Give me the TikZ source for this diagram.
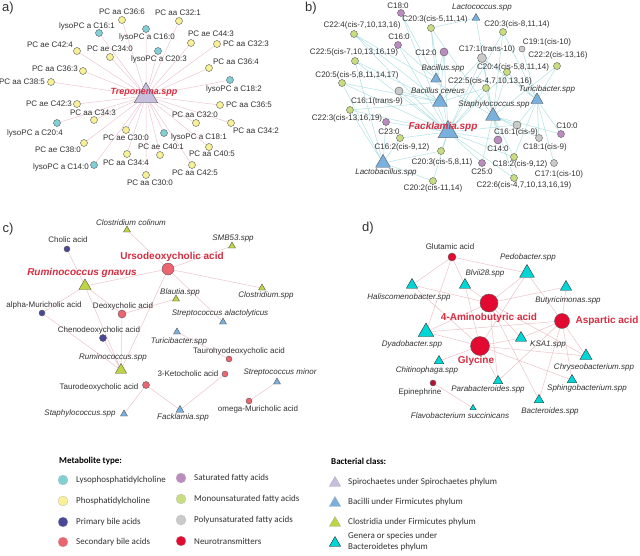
\documentclass[tikz,border=0pt]{standalone}
\usepackage{fontspec}
\setmainfont{Liberation Sans}
\newfontfamily\legfont{Carlito}
\usetikzlibrary{shapes.geometric,backgrounds}
\definecolor{lysoc}{RGB}{128,208,214}
\definecolor{pcc}{RGB}{247,240,150}
\definecolor{primc}{RGB}{72,72,150}
\definecolor{secc}{RGB}{236,100,112}
\definecolor{satc}{RGB}{186,140,192}
\definecolor{monoc}{RGB}{200,220,130}
\definecolor{polyc}{RGB}{202,202,202}
\definecolor{neuroc}{RGB}{226,10,48}
\definecolor{epic}{RGB}{180,20,50}
\definecolor{spiroc}{RGB}{200,190,222}
\definecolor{bacilc}{RGB}{122,176,222}
\definecolor{closc}{RGB}{190,212,64}
\definecolor{bactc}{RGB}{0,214,214}
\definecolor{hubred}{RGB}{215,45,65}
\definecolor{txtc}{RGB}{50,50,50}
\definecolor{apink}{RGB}{238,200,210}
\definecolor{bteal}{RGB}{180,226,230}
\definecolor{cpink}{RGB}{236,196,202}
\tikzset{
  mdot/.style={circle,draw=black!65,line width=0.4pt,inner sep=0pt,minimum size=#1},
  mdot/.default=7pt,
  tri/.style={regular polygon,regular polygon sides=3,draw=black!65,line width=0.4pt,inner sep=0pt,minimum size=#1},
  tri/.default=9pt,
  lbl/.style={font=\fontsize{8}{9.6}\selectfont,text=txtc,inner sep=0pt},
  blbl/.style={font=\fontsize{8}{9.6}\selectfont\itshape,text=txtc,inner sep=0pt},
  hub/.style={font=\fontsize{10}{12}\selectfont\bfseries,text=hubred,inner sep=0pt},
  ihub/.style={font=\fontsize{10}{12}\selectfont\bfseries\itshape,text=hubred,inner sep=0pt},
  panel/.style={font=\fontsize{13}{15}\selectfont,text=txtc,inner sep=0pt},
  aedge/.style={draw=apink,line width=0.5pt},
  bedge/.style={draw=bteal,line width=0.5pt},
  cedge/.style={draw=cpink,line width=0.5pt},
  legh/.style={font=\legfont\fontsize{9}{11}\selectfont\bfseries,text=black,inner sep=0pt,anchor=west},
  legt/.style={font=\legfont\fontsize{9}{11}\selectfont,text=txtc,inner sep=0pt,anchor=west,align=left},
  legdot/.style={circle,draw=black!25,line width=0.3pt,inner sep=0pt,minimum size=10pt},
  legtri/.style={regular polygon,regular polygon sides=3,draw=black!35,line width=0.3pt,inner sep=0pt,minimum size=13pt}
}
\begin{document}
\begin{tikzpicture}[x=1pt,y=-1pt]
  \useasboundingbox (0,0) rectangle (640,555);
  % panel letters
  \node[panel] (pa) at (8,8) {a)};
  \node[panel] (pb) at (311,8) {b)};
  \node[panel] (pc) at (8,229) {c)};
  \node[panel] (pd) at (368,228) {d)};

  % a) Treponema
  \node[tri=27pt,fill=spiroc] (trep) at (146,96) {};
  \node[mdot,fill=pcc] (aa366) at (122,20) {};   \node[lbl] (aa366t) at (122,12) {PC aa C36:6};
  \node[mdot,fill=pcc] (aa321) at (179,21) {};   \node[lbl] (aa321t) at (178,13) {PC aa C32:1};
  \node[mdot,fill=lysoc] (ly161) at (99,33) {};  \node[lbl] (ly161t) at (87,26) {lysoPC a C16:1};
  \node[mdot,fill=lysoc] (ly160) at (146,29) {}; \node[lbl] (ly160t) at (147,37) {lysoPC a C16:0};
  \node[mdot,fill=pcc] (ae443) at (191,43) {};   \node[lbl] (ae443t) at (211,34) {PC ae C44:3};
  \node[mdot,fill=pcc] (ae424) at (77,51) {};    \node[lbl] (ae424t) at (50,45) {PC ae C42:4};
  \node[mdot,fill=pcc] (ae340) at (110,57) {};   \node[lbl] (ae340t) at (110,49) {PC ae C34:0};
  \node[mdot,fill=pcc] (aa323) at (217,44) {};   \node[lbl] (aa323t) at (246,44) {PC aa C32:3};
  \node[mdot,fill=lysoc] (ly203) at (158,51) {}; \node[lbl] (ly203t) at (159,59) {lysoPC a C20:3};
  \node[mdot,fill=pcc] (aa364) at (209,68) {};   \node[lbl] (aa364t) at (236,62) {PC aa C36:4};
  \node[mdot,fill=pcc] (aa363) at (83,71) {};    \node[lbl] (aa363t) at (55,69) {PC aa C36:3};
  \node[mdot,fill=lysoc] (ly182) at (230,80) {}; \node[lbl] (ly182t) at (234,89) {lysoPC a C18:2};
  \node[mdot,fill=pcc] (aa385) at (51,82) {};    \node[lbl] (aa385t) at (22,82) {PC aa C38:5};
  \node[mdot,fill=pcc] (ae423) at (77,104) {};   \node[lbl] (ae423t) at (49,104) {PC ae C42:3};
  \node[mdot,fill=pcc] (aa365) at (220,105) {};  \node[lbl] (aa365t) at (249,105) {PC aa C36:5};
  \node[mdot,fill=pcc] (aa343) at (94,120) {};   \node[lbl] (aa343t) at (93,113) {PC aa C34:3};
  \node[mdot,fill=pcc] (aa320) at (196,123) {};  \node[lbl] (aa320t) at (195,115) {PC aa C32:0};
  \node[mdot,fill=pcc] (aa342) at (231,123) {};  \node[lbl] (aa342t) at (256,131) {PC aa C34:2};
  \node[mdot,fill=lysoc] (ly204) at (57,123) {}; \node[lbl] (ly204t) at (35,133) {lysoPC a C20:4};
  \node[mdot,fill=pcc] (ae300) at (126,130) {};  \node[lbl] (ae300t) at (126,138) {PC ae C30:0};
  \node[mdot,fill=lysoc] (ly181) at (164,133) {};\node[lbl] (ly181t) at (199,137) {lysoPC a C18:1};
  \node[mdot,fill=pcc] (ae380) at (84,143) {};   \node[lbl] (ae380t) at (58,150) {PC ae C38:0};
  \node[mdot,fill=pcc] (ae401) at (160,155) {};  \node[lbl] (ae401t) at (161,147) {PC ae C40:1};
  \node[mdot,fill=pcc] (aa405) at (209,147) {};  \node[lbl] (aa405t) at (212,154) {PC aa C40:5};
  \node[mdot,fill=lysoc] (ly140) at (94,165) {}; \node[lbl] (ly140t) at (61,167) {lysoPC a C14:0};
  \node[mdot,fill=pcc] (aa344) at (127,154) {};  \node[lbl] (aa344t) at (126,163) {PC aa C34:4};
  \node[mdot,fill=pcc] (aa425) at (192,165) {};  \node[lbl] (aa425t) at (195,173) {PC aa C42:5};
  \node[mdot,fill=pcc] (aa300) at (146,175) {};  \node[lbl] (aa300t) at (150,183) {PC aa C30:0};
  \node[font=\fontsize{9}{11}\selectfont\bfseries\itshape,text=hubred,inner sep=0pt] (trept) at (144,92) {Treponema.spp};

  % b) Facklamia and friends
  \node[tri=9pt,fill=bacilc] (lcoc) at (476,18) {};   \node[blbl] (lcoct) at (482,8) {Lactococcus.spp};
  \node[tri=12pt,fill=bacilc] (bspp) at (436,79) {};  \node[blbl] (bsppt) at (443,68) {Bacillus.spp};
  \node[tri=17pt,fill=bacilc] (bcer) at (440,102) {}; \node[blbl] (bcert) at (438,91) {Bacillus cereus};
  \node[tri=17pt,fill=bacilc] (staph) at (493,116) {};\node[blbl] (stapht) at (494,104) {Staphylococcus.spp};
  \node[tri=14pt,fill=bacilc] (turi) at (537,100) {}; \node[blbl] (turit) at (547,89) {Turicibacter.spp};
  \node[tri=17pt,fill=bacilc] (lbac) at (383,163) {}; \node[blbl] (lbact) at (386,172) {Lactobacillus.spp};
  \node[tri=23pt,fill=bacilc] (fack) at (448,132) {};
  \node[mdot,fill=satc] (b180) at (401,13) {};    \node[lbl] (b180t) at (398,6) {C18:0};
  \node[mdot,fill=monoc] (b203a) at (431,28) {};  \node[lbl] (b203at) at (435,19) {C20:3(cis-5,11,14)};
  \node[mdot,fill=monoc] (b203b) at (503,32) {};  \node[lbl] (b203bt) at (517,24) {C20:3(cis-8,11,14)};
  \node[mdot,fill=monoc] (b224) at (354,34) {};   \node[lbl] (b224t) at (362,25) {C22:4(cis-7,10,13,16)};
  \node[mdot,fill=satc] (b160) at (398,45) {};    \node[lbl] (b160t) at (399,37) {C16:0};
  \node[mdot,fill=monoc] (b225a) at (355,61) {};  \node[lbl] (b225at) at (354,52) {C22:5(cis-7,10,13,16,19)};
  \node[mdot=8pt,fill=satc] (b120) at (444,52) {};\node[lbl] (b120t) at (426,53) {C12:0};
  \node[mdot=9pt,fill=polyc] (b171a) at (482,58) {}; \node[lbl] (b171at) at (487,49) {C17:1(trans-10)};
  \node[mdot=6pt,fill=polyc] (b191) at (522,49) {};  \node[lbl] (b191t) at (547,42) {C19:1(cis-10)};
  \node[mdot,fill=monoc] (b222) at (557,66) {};   \node[lbl] (b222t) at (558,55) {C22:2(cis-13,16)};
  \node[mdot,fill=monoc] (b204) at (507,72) {};   \node[lbl] (b204t) at (513,67) {C20:4(cis-5,8,11,14)};
  \node[mdot,fill=monoc] (b205) at (342,83) {};   \node[lbl] (b205t) at (357,75) {C20:5(cis-5,8,11,14,17)};
  \node[mdot,fill=monoc] (b225b) at (486,88) {};  \node[lbl] (b225bt) at (490,81) {C22:5(cis-4,7,10,13,16)};
  \node[mdot=8pt,fill=polyc] (b161a) at (399,91) {};
  \node[mdot,fill=monoc] (b161b) at (350,110) {}; \node[lbl] (b161bt) at (377,101) {C16:1(trans-9)};
  \node[mdot,fill=satc] (b223) at (386,122) {};   \node[lbl] (b223t) at (347,118) {C22:3(cis-13,16,19)};
  \node[mdot,fill=monoc] (b230) at (400,138) {};  \node[lbl] (b230t) at (389,132) {C23:0};
  \node[mdot=8pt,fill=polyc] (b161c) at (517,125) {}; \node[lbl] (b161ct) at (516,132) {C16:1(cis-9)};
  \node[mdot,fill=satc] (b100) at (561,134) {};   \node[lbl] (b100t) at (567,126) {C10:0};
  \node[mdot=8pt,fill=satc] (b140) at (498,140) {}; \node[lbl] (b140t) at (498,149) {C14:0};
  \node[mdot,fill=polyc] (b181) at (539,138) {};  \node[lbl] (b181t) at (545,147) {C18:1(cis-9)};
  \node[lbl] (b162t) at (402,147) {C16:2(cis-9,12)};
  \node[mdot,fill=monoc] (b203c) at (441,151) {}; \node[lbl] (b203ct) at (442,162) {C20:3(cis-5,8,11)};
  \node[mdot,fill=satc] (b250) at (482,163) {};   \node[lbl] (b250t) at (482,172) {C25:0};
  \node[mdot,fill=monoc] (b182) at (514,157) {};  \node[lbl] (b182t) at (520,164) {C18:2(cis-9,12)};
  \node[mdot,fill=polyc] (b171b) at (554,163) {}; \node[lbl] (b171bt) at (559,174) {C17:1(cis-10)};
  \node[mdot,fill=monoc] (b226) at (514,178) {};  \node[lbl] (b226t) at (524,185) {C22:6(cis-4,7,10,13,16,19)};
  \node[mdot,fill=monoc] (b202) at (433,181) {};  \node[lbl] (b202t) at (433,188) {C20:2(cis-11,14)};
  \node[ihub] (fackt) at (443,127) {Facklamia.spp};

  % c) bile acids
  \node[tri=8pt,fill=closc] (ccol) at (127,230) {};  \node[blbl] (ccolt) at (131,223) {Clostridium colinum};
  \node[tri=8pt,fill=closc] (smb) at (232,246) {};   \node[blbl] (smbt) at (233,239) {SMB53.spp};
  \node[mdot=6pt,fill=primc] (chol) at (67,249) {};  \node[lbl] (cholt) at (68,240) {Cholic acid};
  \node[mdot=12pt,fill=secc] (udca) at (168,269) {}; \node[hub] (udcat) at (172,257) {Ursodeoxycholic acid};
  \node[tri=14pt,fill=closc] (rgna) at (85,286) {};  \node[ihub] (rgnat) at (82,273) {Ruminococcus gnavus};
  \node[tri=8pt,fill=closc] (blau) at (176,299) {};  \node[blbl] (blaut) at (180,292) {Blautia.spp};
  \node[tri=8pt,fill=closc] (clos) at (262,288) {};  \node[blbl] (clost) at (266,295) {Clostridium.spp};
  \node[mdot=6pt,fill=primc] (amca) at (42,313) {};  \node[lbl] (amcat) at (44,305) {alpha-Muricholic acid};
  \node[mdot=8pt,fill=secc] (dca) at (122,314) {};   \node[lbl] (dcat) at (123,306) {Deoxycholic acid};
  \node[tri=8pt,fill=bacilc] (salac) at (223,322) {};\node[blbl] (salact) at (220,313) {Streptococcus alactolyticus};
  \node[mdot,fill=primc] (cdca) at (103,338) {};     \node[lbl] (cdcat) at (99,330) {Chenodeoxycholic acid};
  \node[tri=8pt,fill=bacilc] (cturi) at (177,332) {};\node[blbl] (cturit) at (179,341) {Turicibacter.spp};
  \node[tri=13pt,fill=closc] (rspp) at (121,370) {}; \node[blbl] (rsppt) at (113,357) {Ruminococcus.spp};
  \node[mdot=6pt,fill=secc] (thdca) at (229,359) {}; \node[lbl] (thdcat) at (239,351) {Taurohyodeoxycholic acid};
  \node[mdot=6pt,fill=secc] (kca) at (225,374) {};   \node[lbl] (kcat) at (188,374) {3-Ketocholic acid};
  \node[tri=8pt,fill=bacilc] (smin) at (277,382) {}; \node[blbl] (smint) at (280,372) {Streptococcus minor};
  \node[mdot,fill=secc] (tdca) at (146,385) {};      \node[lbl] (tdcat) at (99,387) {Taurodeoxycholic acid};
  \node[mdot=6pt,fill=secc] (omca) at (249,401) {};  \node[lbl] (omcat) at (258,409) {omega-Muricholic acid};
  \node[tri=8pt,fill=bacilc] (cstaph) at (124,414) {}; \node[blbl] (cstapht) at (80,413) {Staphylococcus.spp};
  \node[tri=9pt,fill=bacilc] (cfack) at (180,410) {};  \node[blbl] (cfackt) at (183,417) {Facklamia.spp};

  % d) neurotransmitters
  \node[mdot=8pt,fill=neuroc] (glu) at (452,257) {}; \node[lbl] (glut) at (450,247) {Glutamic acid};
  \node[tri=17pt,fill=bactc,draw=black!80] (pedo) at (527,273) {}; \node[blbl] (pedot) at (528,257) {Pedobacter.spp};
  \node[tri=13pt,fill=bactc,draw=black!80] (blvi) at (465,285) {}; \node[blbl] (blvit) at (485,273) {Blvii28.spp};
  \node[tri=13pt,fill=bactc,draw=black!80] (hali) at (412,285) {}; \node[blbl] (halit) at (409,297) {Haliscomenobacter.spp};
  \node[tri=13pt,fill=bactc,draw=black!80] (buty) at (566,287) {}; \node[blbl] (butyt) at (568,300) {Butyricimonas.spp};
  \node[mdot=18pt,fill=neuroc] (gaba) at (489,303) {}; \node[hub] (gabat) at (489,318) {4-Aminobutyric acid};
  \node[mdot=15pt,fill=neuroc] (asp) at (562,321) {};  \node[hub] (aspt) at (607,321) {Aspartic acid};
  \node[tri=18pt,fill=bactc,draw=black!80] (dyad) at (426,332) {}; \node[blbl] (dyadt) at (412,344) {Dyadobacter.spp};
  \node[mdot=19pt,fill=neuroc] (gly) at (480,346) {};  \node[hub] (glyt) at (476,361) {Glycine};
  \node[tri=13pt,fill=bactc,draw=black!80] (ksa) at (521,338) {};  \node[blbl] (ksat) at (548,345) {KSA1.spp};
  \node[tri=14pt,fill=bactc,draw=black!80] (chry) at (586,356) {}; \node[blbl] (chryt) at (594,367) {Chryseobacterium.spp};
  \node[tri=11pt,fill=bactc,draw=black!80] (chit) at (439,361) {}; \node[blbl] (chitt) at (427,370) {Chitinophaga.spp};
  \node[tri=11pt,fill=bactc,draw=black!80] (para) at (498,381) {}; \node[blbl] (parat) at (488,389) {Parabacteroides.spp};
  \node[tri=11pt,fill=bactc,draw=black!80] (sphi) at (572,380) {}; \node[blbl] (sphit) at (587,388) {Sphingobacterium.spp};
  \node[mdot=6pt,fill=epic] (epi) at (433,383) {};     \node[lbl] (epit) at (420,392) {Epinephrine};
  \node[tri=11pt,fill=bactc,draw=black!80] (bact) at (539,400) {}; \node[blbl] (bactt) at (550,411) {Bacteroides.spp};
  \node[tri=7pt,fill=bactc,draw=black!80] (flav) at (473,408) {};  \node[blbl] (flavt) at (460,416) {Flavobacterium succinicans};

  % connectors behind the nodes
  \begin{scope}[on background layer]
    \fill[white] (0,0) rectangle (640,555);
    \draw[aedge] (trep) -- (aa366) (trep) -- (aa321) (trep) -- (ly161) (trep) -- (ly160)
      (trep) -- (ae443) (trep) -- (ae424) (trep) -- (ae340) (trep) -- (aa323)
      (trep) -- (ly203) (trep) -- (aa364) (trep) -- (aa363) (trep) -- (ly182)
      (trep) -- (aa385) (trep) -- (ae423) (trep) -- (aa365) (trep) -- (aa343)
      (trep) -- (aa320) (trep) -- (aa342) (trep) -- (ly204) (trep) -- (ae300)
      (trep) -- (ly181) (trep) -- (ae380) (trep) -- (ae401) (trep) -- (aa405)
      (trep) -- (ly140) (trep) -- (aa344) (trep) -- (aa425) (trep) -- (aa300);
    \draw[bedge] (b180) -- (bspp) (b180) -- (fack)
      (b203a) -- (lcoc) (b203a) -- (bspp) (b203a) -- (fack) (b203a) -- (staph)
      (b203b) -- (staph) (b203b) -- (turi) (b203b) -- (fack)
      (b224) -- (bcer) (b224) -- (fack) (b224) -- (staph)
      (b160) -- (bspp) (b160) -- (fack)
      (b225a) -- (bcer) (b225a) -- (fack) (b225a) -- (lbac)
      (b120) -- (bspp) (b120) -- (fack) (b120) -- (bcer)
      (b171a) -- (staph) (b171a) -- (fack) (b171a) -- (bcer) (b171a) -- (turi)
      (b191) -- (turi) (b222) -- (turi) (b222) -- (staph)
      (b204) -- (staph) (b204) -- (fack) (b204) -- (turi)
      (b205) -- (bcer) (b205) -- (fack) (b205) -- (lbac)
      (b225b) -- (staph) (b225b) -- (bcer) (b225b) -- (fack)
      (b161a) -- (bcer) (b161a) -- (fack)
      (b161b) -- (fack) (b161b) -- (bcer) (b161b) -- (lbac)
      (b223) -- (fack) (b223) -- (lbac) (b230) -- (fack) (b230) -- (lbac)
      (b161c) -- (staph) (b161c) -- (fack) (b161c) -- (turi)
      (b100) -- (turi) (b100) -- (staph) (b140) -- (fack) (b140) -- (staph)
      (b181) -- (turi) (b181) -- (staph) (b203c) -- (fack) (b203c) -- (lbac)
      (b250) -- (fack) (b250) -- (staph)
      (b182) -- (staph) (b182) -- (fack) (b182) -- (turi)
      (b171b) -- (turi) (b226) -- (staph) (b226) -- (fack)
      (b202) -- (lbac) (b202) -- (fack) (lcoc) -- (staph);
    \draw[cedge] (udca) -- (ccol) (udca) -- (smb) (udca) -- (rgna) (udca) -- (clos)
      (udca) -- (salac) (udca) -- (rspp) (chol) -- (rgna) (rgna) -- (amca)
      (rgna) -- (dca) (rgna) -- (rspp) (amca) -- (rspp) (cdca) -- (rspp)
      (dca) -- (rspp) (dca) -- (blau) (cturi) -- (thdca) (kca) -- (cfack)
      (tdca) -- (cfack) (tdca) -- (cstaph) (smin) -- (omca);
    \draw[cedge] (glu) -- (hali) (glu) -- (blvi) (glu) -- (pedo) (glu) -- (dyad)
      (gaba) -- (hali) (gaba) -- (blvi) (gaba) -- (pedo) (gaba) -- (buty) (gaba) -- (dyad)
      (gaba) -- (ksa) (gaba) -- (chry) (gaba) -- (para) (gaba) -- (bact)
      (asp) -- (pedo) (asp) -- (buty) (asp) -- (ksa) (asp) -- (chry) (asp) -- (sphi)
      (asp) -- (dyad) (asp) -- (bact) (asp) -- (para)
      (gly) -- (dyad) (gly) -- (hali) (gly) -- (blvi) (gly) -- (ksa) (gly) -- (chry)
      (gly) -- (sphi) (gly) -- (chit) (gly) -- (para) (gly) -- (pedo)
      (epi) -- (flav);
  \end{scope}

  % legend
  \node[legh] (mtype) at (59,461) {Metabolite type:};
  \node[legdot,fill=lysoc] (k1) at (63,480) {};  \node[legt] (k1t) at (76,480) {Lysophosphatidylcholine};
  \node[legdot,fill=pcc] (k2) at (63,501) {};    \node[legt] (k2t) at (76,501) {Phosphatidylcholine};
  \node[legdot,fill=primc] (k3) at (63,522) {};  \node[legt] (k3t) at (76,522) {Primary bile acids};
  \node[legdot,fill=secc] (k4) at (63,542) {};   \node[legt] (k4t) at (76,542) {Secondary bile acids};
  \node[legdot,fill=satc] (k5) at (181,478) {};  \node[legt] (k5t) at (194,478) {Saturated fatty acids};
  \node[legdot,fill=monoc] (k6) at (181,499) {}; \node[legt] (k6t) at (194,499) {Monounsaturated fatty acids};
  \node[legdot,fill=polyc] (k7) at (181,520) {}; \node[legt] (k7t) at (194,520) {Polyunsaturated fatty acids};
  \node[legdot,fill=neuroc] (k8) at (181,541) {};\node[legt] (k8t) at (194,541) {Neurotransmitters};
  \node[legh] (bclass) at (331,461) {Bacterial class:};
  \node[legtri,fill=spiroc] (t1) at (335,483) {}; \node[legt] (t1t) at (348,482) {Spirochaetes under Spirochaetes phylum};
  \node[legtri,fill=bacilc] (t2) at (335,503) {}; \node[legt] (t2t) at (348,502) {Bacilli under Firmicutes phylum};
  \node[legtri,fill=closc] (t3) at (335,523) {};  \node[legt] (t3t) at (348,522) {Clostridia under Firmicutes phylum};
  \node[legtri,fill=bactc,draw=black] (t4) at (335,543) {}; \node[legt] (t4t) at (348,542) {Genera or species under\\Bacteroidetes phylum};
\end{tikzpicture}
\end{document}
